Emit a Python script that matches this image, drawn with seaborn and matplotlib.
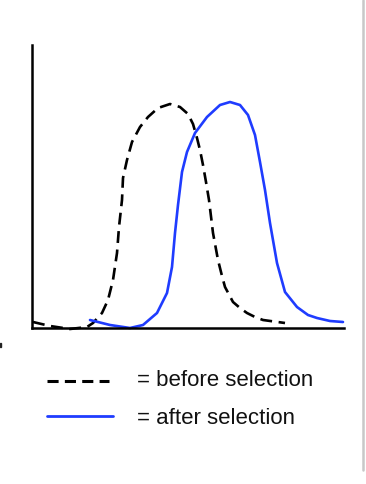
import matplotlib
matplotlib.use("Agg")
import matplotlib.pyplot as plt
import seaborn as sns
import pandas as pd
from matplotlib.lines import Line2D
from matplotlib.patches import Rectangle

# Curve readings (arbitrary units)
before_x = [1, 18, 38, 55, 61, 70, 76, 81, 85, 87, 90, 91, 95, 100, 108, 116, 126,
            138, 148, 156, 161, 165, 168, 171, 174, 177, 181, 186, 190, 193, 201,
            208, 215, 223, 231, 253]
before_y = [6, 2, -1, 1, 5, 15, 28, 48, 75, 101, 128, 150, 168, 186, 201, 211, 220,
            224, 221, 214, 204, 190, 178, 163, 146, 128, 95, 68, 52, 41, 26,
            20, 15, 11, 8, 5]
after_x = [58, 78, 98, 111, 125, 135, 140, 143, 146, 150, 155, 163, 175, 188, 198,
           208, 216, 223, 228, 233, 238, 245, 253, 265, 276, 285, 298, 311]
after_y = [8, 3, 0, 3, 15, 35, 61, 95, 123, 156, 176, 195, 211, 223, 226,
           223, 213, 193, 166, 138, 105, 65, 36, 21, 13, 10, 7, 6]
legend_labels = ["= before selection", "= after selection"]

sns.set_style("white")
plt.rcParams['font.family'] = ['Liberation Sans', 'DejaVu Sans']

W, H = 366, 484
fig = plt.figure(figsize=(W / 100, H / 100), dpi=100)
ax = fig.add_axes([32 / W, 1 - 328 / H, (344 - 32) / W, (328 - 45) / H])

df_b = pd.DataFrame({"x": before_x, "y": before_y})
df_a = pd.DataFrame({"x": after_x, "y": after_y})
sns.lineplot(data=df_b, x="x", y="y", ax=ax, sort=False, estimator=None,
             color="black", lw=1.9, linestyle=(0, (4.5, 2.5)), clip_on=False)
sns.lineplot(data=df_a, x="x", y="y", ax=ax, sort=False, estimator=None,
             color="#1f3cff", lw=1.9, clip_on=False)
for ln in ax.get_lines():
    ln.set_solid_joinstyle("round")
    ln.set_dash_joinstyle("round")

ax.set_xlim(0, 312)
ax.set_ylim(0, 283)
ax.set_xticks([])
ax.set_yticks([])
ax.set_xlabel("")
ax.set_ylabel("")
for s in ["top", "right"]:
    ax.spines[s].set_visible(False)
for s in ["left", "bottom"]:
    ax.spines[s].set_color("black")
    ax.spines[s].set_linewidth(1.8)
ax.patch.set_alpha(0)

# legend (manual)
def fx(px):
    return px / W

def fy(py):
    return 1 - py / H

with plt.rc_context({"lines.scale_dashes": False}):
    fig.add_artist(Line2D([fx(47), fx(109)], [fy(381), fy(381)], color="black", lw=2.2,
                          linestyle=(0, (8.0, 4.5)), dash_capstyle="butt"))
fig.add_artist(Line2D([fx(47), fx(113)], [fy(416), fy(416)], color="#1f3cff", lw=2.0))
fig.text(fx(137), fy(381), legend_labels[0], fontsize=16, va="center", ha="left", color="#111111")
fig.text(fx(137), fy(418), legend_labels[1], fontsize=16, va="center", ha="left", color="#111111")

# right gray border line
fig.add_artist(Line2D([fx(363), fx(363)], [fy(0), fy(470)], color="#c8c8c8", lw=1.8))
# small fragment at left edge
fig.add_artist(Rectangle((0, fy(347)), fx(1.2), 4 / H, color="#222222"))

fig.savefig("out.png", dpi=100)
